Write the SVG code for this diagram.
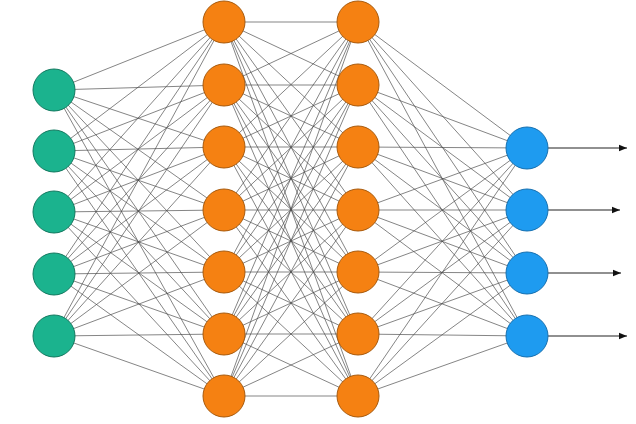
<svg xmlns="http://www.w3.org/2000/svg" width="636" height="424" viewBox="0 0 636 424">
<style>
.e{stroke:#4a4a4a;stroke-width:0.8;stroke-opacity:0.85}
.a{stroke:#222;stroke-width:1.2}
.g{fill:#1bb38e;stroke:#12795f;stroke-width:1}
.o{fill:#f58112;stroke:#a85a0c;stroke-width:1}
.b{fill:#1e9bf0;stroke:#1670b0;stroke-width:1}
</style>
<defs><marker id="m" viewBox="0 0 10 10" refX="10" refY="5" markerWidth="7" markerHeight="7" orient="auto"><path d="M0,1 L10,5 L0,9 z" fill="#111"/></marker></defs>
<rect width="636" height="424" fill="#fff"/>
<g id="connectors">
<g class="e" id="e12"></g>
<path class="e" fill="none" d="
M54,90L224,22M54,90L224,85M54,90L224,147M54,90L224,210M54,90L224,272M54,90L224,334M54,90L224,396
M54,151L224,22M54,151L224,85M54,151L224,147M54,151L224,210M54,151L224,272M54,151L224,334M54,151L224,396
M54,212L224,22M54,212L224,85M54,212L224,147M54,212L224,210M54,212L224,272M54,212L224,334M54,212L224,396
M54,274L224,22M54,274L224,85M54,274L224,147M54,274L224,210M54,274L224,272M54,274L224,334M54,274L224,396
M54,336L224,22M54,336L224,85M54,336L224,147M54,336L224,210M54,336L224,272M54,336L224,334M54,336L224,396
M224,22L358,22M224,22L358,85M224,22L358,147M224,22L358,210M224,22L358,272M224,22L358,334M224,22L358,396
M224,85L358,22M224,85L358,85M224,85L358,147M224,85L358,210M224,85L358,272M224,85L358,334M224,85L358,396
M224,147L358,22M224,147L358,85M224,147L358,147M224,147L358,210M224,147L358,272M224,147L358,334M224,147L358,396
M224,210L358,22M224,210L358,85M224,210L358,147M224,210L358,210M224,210L358,272M224,210L358,334M224,210L358,396
M224,272L358,22M224,272L358,85M224,272L358,147M224,272L358,210M224,272L358,272M224,272L358,334M224,272L358,396
M224,334L358,22M224,334L358,85M224,334L358,147M224,334L358,210M224,334L358,272M224,334L358,334M224,334L358,396
M224,396L358,22M224,396L358,85M224,396L358,147M224,396L358,210M224,396L358,272M224,396L358,334M224,396L358,396
M358,22L527,148M358,22L527,210M358,22L527,273M358,22L527,336
M358,85L527,148M358,85L527,210M358,85L527,273M358,85L527,336
M358,147L527,148M358,147L527,210M358,147L527,273M358,147L527,336
M358,210L527,148M358,210L527,210M358,210L527,273M358,210L527,336
M358,272L527,148M358,272L527,210M358,272L527,273M358,272L527,336
M358,334L527,148M358,334L527,210M358,334L527,273M358,334L527,336
M358,396L527,148M358,396L527,210M358,396L527,273M358,396L527,336"/>
<line class="a" x1="548" y1="148" x2="627" y2="148" marker-end="url(#m)"/>
<line class="a" x1="548" y1="210" x2="620" y2="210" marker-end="url(#m)"/>
<line class="a" x1="548" y1="273" x2="621" y2="273" marker-end="url(#m)"/>
<line class="a" x1="548" y1="336" x2="627" y2="336" marker-end="url(#m)"/>
</g>
<g id="input">
<circle id="i1" class="g" cx="54" cy="90" r="21"/><circle id="i2" class="g" cx="54" cy="151" r="21"/><circle id="i3" class="g" cx="54" cy="212" r="21"/><circle id="i4" class="g" cx="54" cy="274" r="21"/><circle id="i5" class="g" cx="54" cy="336" r="21"/>
</g>
<g id="hidden1">
<circle id="h1a" class="o" cx="224" cy="22" r="21"/><circle id="h1b" class="o" cx="224" cy="85" r="21"/><circle id="h1c" class="o" cx="224" cy="147" r="21"/><circle id="h1d" class="o" cx="224" cy="210" r="21"/><circle id="h1e" class="o" cx="224" cy="272" r="21"/><circle id="h1f" class="o" cx="224" cy="334" r="21"/><circle id="h1g" class="o" cx="224" cy="396" r="21"/>
</g>
<g id="hidden2">
<circle id="h2a" class="o" cx="358" cy="22" r="21"/><circle id="h2b" class="o" cx="358" cy="85" r="21"/><circle id="h2c" class="o" cx="358" cy="147" r="21"/><circle id="h2d" class="o" cx="358" cy="210" r="21"/><circle id="h2e" class="o" cx="358" cy="272" r="21"/><circle id="h2f" class="o" cx="358" cy="334" r="21"/><circle id="h2g" class="o" cx="358" cy="396" r="21"/>
</g>
<g id="output">
<circle id="o1" class="b" cx="527" cy="148" r="21"/><circle id="o2" class="b" cx="527" cy="210" r="21"/><circle id="o3" class="b" cx="527" cy="273" r="21"/><circle id="o4" class="b" cx="527" cy="336" r="21"/>
</g>
</svg>
